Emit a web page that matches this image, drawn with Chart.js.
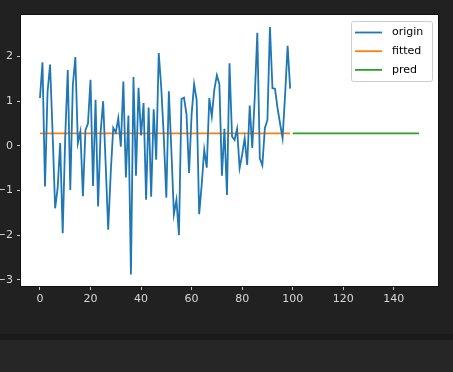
<!DOCTYPE html>
<html>
<head>
<meta charset="utf-8">
<script src="https://cdn.jsdelivr.net/npm/chart.js@4"></script>
<style>
  html, body { margin: 0; padding: 0; background: #212121; }
  canvas { display: block; }
</style>
</head>
<body>
<canvas id="chart" width="453" height="372"></canvas>
<script>
// origin series (index 0..99)
const originValues = [
    1.07, 1.87, -0.91, 1.2, 1.82, 0.3, -1.40, -0.95, 0.06, -1.96,
    0.2, 1.70, -0.99, 1.35, 1.99, 0.06, 0.32, -1.13, 0.35, 0.5,
    1.48, -0.90, 1.03, -1.36, 0.3, 1.0, -0.4, -1.88, -0.6, 0.4,
    0.3, 0.62, -0.02, 1.44, -0.71, 0.68, -2.88, 1.54, -0.67, 1.30,
    0.23, 0.96, -1.21, 0.86, -1.14, 0.82, -0.31, 2.08, 1.3, 0.2,
    -1.16, 1.22, -0.1, -1.53, -1.21, -2.00, 1.05, 1.08, 0.70, -0.61,
    0.70, 1.38, 1.03, -1.53, -0.87, -0.09, -0.49, 1.07, 0.66, 1.26,
    1.58, 1.38, -0.67, 0.38, -1.10, 1.85, 0.21, 0.13, 0.38, -0.50,
    -0.2, 0.17, -0.43, 0.90, -0.05, 1.1, 2.53, -0.28, -0.44, 0.40,
    0.58, 2.66, 1.29, 1.28, 0.85, 0.5, 0.17, 1.14, 2.24, 1.28
];

// fitted and predicted lines (flat)
const fittedX = [0, 99];
const fittedY = [0.28, 0.28];
const predX = [100, 150];
const predY = [0.28, 0.28];

const seriesNames = ["origin", "fitted", "pred"];
const xTicks = [0, 20, 40, 60, 80, 100, 120, 140];
const yTicks = [-3, -2, -1, 0, 1, 2];

function toPoints(xs, ys) {
    return xs.map((x, i) => ({ x: x, y: ys[i] }));
}

const originPoints = originValues.map((v, i) => ({ x: i, y: v }));

// page background, white axes area and frame
const backgroundPlugin = {
    id: "background",
    beforeDraw(chart) {
        const ctx = chart.ctx;
        const a = chart.chartArea;
        ctx.save();
        ctx.fillStyle = "#212121";
        ctx.fillRect(0, 0, chart.width, chart.height);
        ctx.fillStyle = "#1a1a1a";
        ctx.fillRect(0, 334, chart.width, 6);
        ctx.fillStyle = "#262626";
        ctx.fillRect(0, 340, chart.width, chart.height - 340);
        ctx.fillStyle = "#ffffff";
        ctx.fillRect(a.left, a.top, a.right - a.left, a.bottom - a.top);
        ctx.restore();
    },
    afterDraw(chart) {
        const ctx = chart.ctx;
        const a = chart.chartArea;
        ctx.save();
        ctx.strokeStyle = "#111";
        ctx.lineWidth = 1;
        ctx.strokeRect(a.left - 0.5, a.top - 0.5, a.right - a.left + 1, a.bottom - a.top + 1);
        ctx.restore();
    }
};

// legend inside the axes, top right, matplotlib style
const legendPlugin = {
    id: "boxLegend",
    afterDatasetsDraw(chart) {
        const ctx = chart.ctx;
        const a = chart.chartArea;
        const boxW = 81, boxH = 60;
        const x0 = a.right - 6 - boxW;
        const y0 = a.top + 6;
        ctx.save();
        ctx.fillStyle = "rgba(255,255,255,0.8)";
        ctx.strokeStyle = "#cccccc";
        ctx.lineWidth = 1;
        ctx.beginPath();
        ctx.roundRect(x0 + 0.5, y0 + 0.5, boxW, boxH, 2);
        ctx.fill();
        ctx.stroke();
        ctx.font = "11px 'DejaVu Sans'";
        ctx.textBaseline = "middle";
        chart.data.datasets.forEach((ds, i) => {
            const y = y0 + 11.5 + i * 18.7;
            ctx.strokeStyle = ds.borderColor;
            ctx.lineWidth = 1.8;
            ctx.beginPath();
            ctx.moveTo(x0 + 4, y);
            ctx.lineTo(x0 + 31, y);
            ctx.stroke();
            ctx.fillStyle = "#000";
            ctx.fillText(ds.label, x0 + 41, y);
        });
        ctx.restore();
    }
};

new Chart(document.getElementById("chart").getContext("2d"), {
    type: "line",
    data: {
        datasets: [
            { label: seriesNames[0], data: originPoints, borderColor: "#1f77b4" },
            { label: seriesNames[1], data: toPoints(fittedX, fittedY), borderColor: "#ff7f0e" },
            { label: seriesNames[2], data: toPoints(predX, predY), borderColor: "#2ca02c" }
        ]
    },
    options: {
        responsive: false,
        animation: false,
        devicePixelRatio: 1,
        layout: { padding: { top: 15, right: 15, left: 0, bottom: 0 } },
        elements: {
            line: { borderWidth: 1.8, tension: 0, fill: false },
            point: { radius: 0 }
        },
        plugins: {
            legend: { display: false },
            tooltip: { enabled: false }
        },
        scales: {
            x: {
                type: "linear",
                min: -7.5,
                max: 157.5,
                afterFit: scale => { scale.height = 86; },
                afterBuildTicks: scale => { scale.ticks = xTicks.map(v => ({ value: v })); },
                grid: { drawOnChartArea: false, drawTicks: true, tickLength: 4, tickColor: "#cccccc" },
                border: { display: false },
                ticks: {
                    color: "#d8d8d8",
                    font: { family: "DejaVu Sans", size: 11 },
                    padding: 3,
                    maxRotation: 0
                }
            },
            y: {
                type: "linear",
                min: -3.14,
                max: 2.93,
                afterFit: scale => { scale.width = 21; },
                afterBuildTicks: scale => { scale.ticks = yTicks.map(v => ({ value: v })); },
                grid: { drawOnChartArea: false, drawTicks: true, tickLength: 4, tickColor: "#cccccc" },
                border: { display: false },
                ticks: {
                    color: "#d8d8d8",
                    font: { family: "DejaVu Sans", size: 11 },
                    padding: 4,
                    callback: v => (v < 0 ? "\u2212" + Math.abs(v) : String(v))
                }
            }
        }
    },
    plugins: [backgroundPlugin, legendPlugin]
});
</script>
</body>
</html>
